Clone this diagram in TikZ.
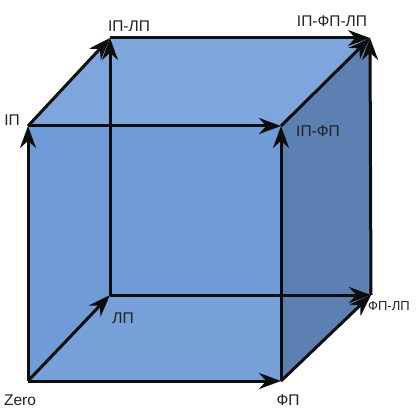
\documentclass[tikz,border=0pt]{standalone}
\usepackage{fontspec}
\setmainfont{Liberation Sans}
\usetikzlibrary{arrows.meta,positioning}
\definecolor{frontblue}{HTML}{6F9BD6}
\definecolor{topblue}{HTML}{7FA6DC}
\definecolor{sideblue}{HTML}{5D80B3}
\definecolor{labelgray}{HTML}{222222}

\begin{document}
\begin{tikzpicture}[
  x=1pt,y=-1pt,
  >={Stealth[length=22pt,width=16pt]},
  lbl/.style={font=\fontsize{15.5}{18}\selectfont,text=labelgray,inner sep=1pt},
  edge/.style={->,line width=3pt,draw=black!95}
]
\useasboundingbox (0,0) rectangle (418,409);

% corners
\coordinate (zero)  at (28,381);
\coordinate (fp)    at (281,381);
\coordinate (ip)    at (28,126);
\coordinate (ipfp)  at (281,126);
\coordinate (lp)    at (110,295);
\coordinate (fplp)  at (371,295);
\coordinate (iplp)  at (110,38);
\coordinate (all)   at (370,38);

% faces
\fill[frontblue] (zero) -- (fp) -- (ipfp) -- (ip) -- cycle;
\fill[frontblue!95!white] (zero) -- (lp) -- (fplp) -- (fp) -- cycle;
\fill[frontblue] (zero) -- (ip) -- (iplp) -- (lp) -- cycle;
\fill[topblue] (ip) -- (iplp) -- (all) -- (ipfp) -- cycle;
\fill[sideblue] (fp) -- (fplp) -- (all) -- (ipfp) -- cycle;

% labels
\node[lbl] (tzero) at (20,400)  {Zero};
\node[lbl] (tfp)   at (288,400) {ФП};
\node[lbl] (tip)   at (12,120)  {IП};
\node[lbl] (tipfp) at (318,131) {IП-ФП};
\node[lbl] (tlp)   at (123,318) {ЛП};
\node[lbl,anchor=west,font=\fontsize{13}{15}\selectfont] (tfplp) at (367,306) {ФП-ЛП};
\node[lbl] (tiplp) at (129,26)  {IП-ЛП};
\node[lbl] (tall)  at (332,21)  {IП-ФП-ЛП};

% edges
\draw[edge] (zero) -- (ip);
\draw[edge] (zero) -- (fp);
\draw[edge] (zero) -- (lp);
\draw[edge] (ip) -- (iplp);
\draw[edge] (ip) -- (ipfp);
\draw[edge] (fp) -- (ipfp);
\draw[edge] (fp) -- (fplp);
\draw[edge] (lp) -- (iplp);
\draw[edge] (lp) -- (fplp);
\draw[edge] (iplp) -- (all);
\draw[edge] (ipfp) -- (all);
\draw[edge] (fplp) -- (all);
\end{tikzpicture}
\end{document}
